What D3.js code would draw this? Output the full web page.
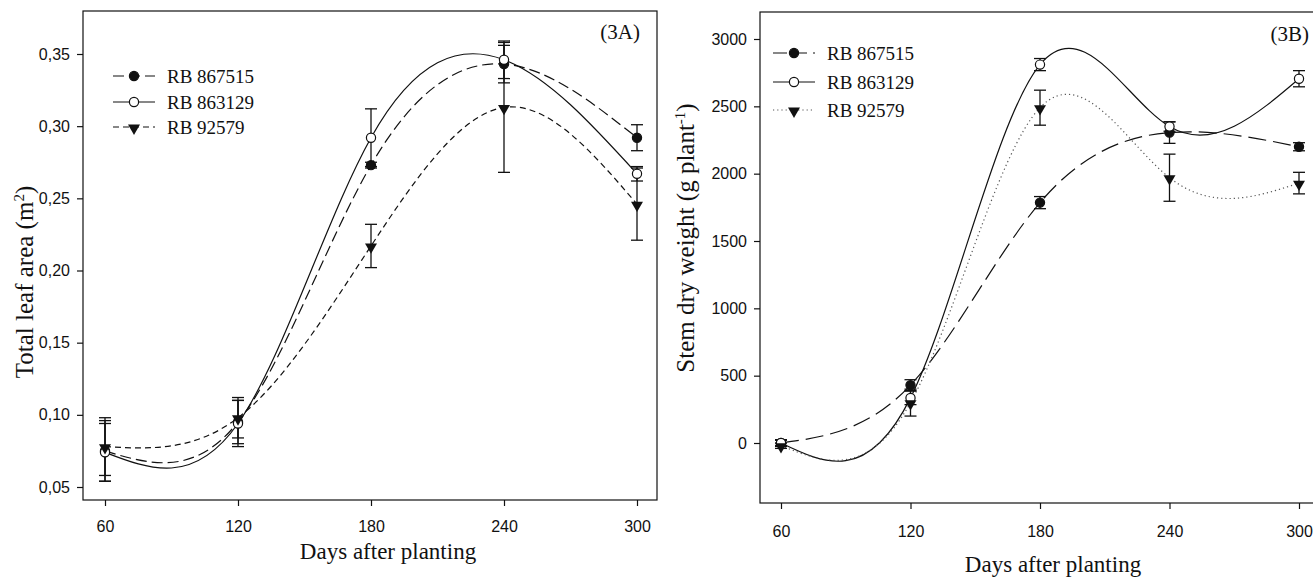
<!DOCTYPE html>
<html>
<head>
<meta charset="utf-8">
<script src="https://cdn.jsdelivr.net/npm/d3@7"></script>
<style>
  body { margin: 0; background: #fff; }
  svg { display: block; }
</style>
</head>
<body>
<svg id="chart" width="1313" height="577"></svg>
<script>
// x values and tick labels
const days = [60, 120, 180, 240, 300];
const dayTicks = [60, 120, 180, 240, 300];
const cultivars = ['RB 867515', 'RB 863129', 'RB 92579'];

// 3A - total leaf area (m2), means and error
const area867515 = [0.075, 0.095, 0.273, 0.343, 0.292];
const area867515Err = [0.021, 0.015, 0.002, 0.013, 0.009];
const area863129 = [0.074, 0.094, 0.292, 0.346, 0.267];
const area863129Err = [0.020, 0.016, 0.020, 0.013, 0.005];
const area92579 = [0.078, 0.098, 0.217, 0.313, 0.246];
const area92579Err = [0.020, 0.014, 0.015, 0.045, 0.025];
const areaTicks = [0.05, 0.10, 0.15, 0.20, 0.25, 0.30, 0.35];

// 3B - stem dry weight (g plant-1), means and error
const weight867515 = [0, 430, 1785, 2305, 2200];
const weight867515Err = [25, 40, 45, 80, 30];
const weight863129 = [0, 335, 2810, 2350, 2705];
const weight863129Err = [20, 50, 45, 35, 60];
const weight92579 = [-20, 300, 2490, 1970, 1930];
const weight92579Err = [20, 100, 130, 175, 80];
const weightTicks = [0, 500, 1000, 1500, 2000, 2500, 3000];

const svg = d3.select('#chart');
const ink = '#111';

function drawPanel(p) {
  const x = d3.scaleLinear().domain([60, 300]).range(p.xRange);
  const y = d3.scaleLinear().domain(p.yDomain).range(p.yRange);
  const g = svg.append('g');

  // frame
  g.append('rect')
    .attr('x', p.frame[0]).attr('y', p.frame[1])
    .attr('width', p.frame[2] - p.frame[0]).attr('height', p.frame[3] - p.frame[1])
    .attr('fill', 'none').attr('stroke', ink).attr('stroke-width', 1.2);

  // axes
  const xAxis = g.append('g')
    .attr('transform', 'translate(0,' + p.frame[3] + ')')
    .call(d3.axisBottom(x).tickValues(dayTicks).tickSize(6).tickPadding(p.xPad).tickSizeOuter(0));
  const yAxis = g.append('g')
    .attr('transform', 'translate(' + p.frame[0] + ',0)')
    .call(d3.axisLeft(y).tickValues(p.yTicks).tickSize(6).tickPadding(7).tickSizeOuter(0).tickFormat(p.fmt));
  [xAxis, yAxis].forEach(function (a) {
    a.select('.domain').remove();
    a.selectAll('line').attr('stroke', ink).attr('stroke-width', 1.2);
    a.selectAll('text').attr('fill', ink).style('font-family', '"Liberation Sans", Arial, sans-serif').style('font-size', '16px');
  });

  // curves
  const line = d3.line()
    .x(function (d, i) { return x(days[i]); })
    .y(function (d) { return y(d); })
    .curve(d3.curveNatural);
  p.series.forEach(function (s) {
    g.append('path')
      .attr('d', line(s.values))
      .attr('fill', 'none')
      .attr('stroke', s.color)
      .attr('stroke-width', s.width)
      .attr('stroke-dasharray', s.dash);
  });

  // error bars
  p.series.forEach(function (s) {
    s.values.forEach(function (v, i) {
      const cx = x(days[i]);
      const y1 = y(v + s.err[i]);
      const y2 = y(v - s.err[i]);
      g.append('line').attr('x1', cx).attr('x2', cx).attr('y1', y1).attr('y2', y2)
        .attr('stroke', ink).attr('stroke-width', 1.3);
      [y1, y2].forEach(function (cy) {
        g.append('line').attr('x1', cx - 6).attr('x2', cx + 6).attr('y1', cy).attr('y2', cy)
          .attr('stroke', ink).attr('stroke-width', 1.3);
      });
    });
  });

  // markers
  p.series.forEach(function (s) {
    s.values.forEach(function (v, i) {
      drawMarker(g, s.marker, x(days[i]), y(v));
    });
  });

  // legend
  p.series.forEach(function (s, i) {
    const ly = p.legend.y[i];
    g.append('line')
      .attr('x1', p.legend.x).attr('x2', p.legend.x + 42)
      .attr('y1', ly).attr('y2', ly)
      .attr('stroke', s.color).attr('stroke-width', s.width)
      .attr('stroke-dasharray', s.legendDash || s.dash);
    drawMarker(g, s.marker, p.legend.x + 21, ly);
    g.append('text')
      .attr('x', p.legend.x + 54).attr('y', ly + 6.5)
      .attr('fill', ink)
      .style('font-family', '"Liberation Serif", "Times New Roman", serif')
      .style('font-size', '19px')
      .text(cultivars[i]);
  });

  // panel tag
  g.append('text')
    .attr('x', p.tag.x).attr('y', p.tag.y)
    .attr('text-anchor', 'end')
    .attr('fill', ink)
    .style('font-family', '"Liberation Serif", "Times New Roman", serif')
    .style('font-size', '21px')
    .text(p.tag.text);

  // axis titles
  g.append('text')
    .attr('x', p.xTitle[0]).attr('y', p.xTitle[1])
    .attr('text-anchor', 'middle')
    .attr('fill', ink)
    .style('font-family', '"Liberation Serif", "Times New Roman", serif')
    .style('font-size', '23px')
    .text('Days after planting');

  const yt = g.append('text')
    .attr('transform', 'translate(' + p.yTitle[0] + ',' + p.yTitle[1] + ') rotate(-90)')
    .attr('text-anchor', 'middle')
    .attr('fill', ink)
    .style('font-family', '"Liberation Serif", "Times New Roman", serif')
    .style('font-size', '25px');
  yt.append('tspan').text(p.yLabel[0]);
  yt.append('tspan').attr('dy', -9).style('font-size', '15px').text(p.yLabel[1]);
  yt.append('tspan').attr('dy', 9).text(p.yLabel[2]);
}

function drawMarker(g, type, cx, cy) {
  if (type === 'triangle') {
    g.append('path')
      .attr('d', d3.symbol(d3.symbolTriangle, 62)())
      .attr('transform', 'translate(' + cx + ',' + (cy + 1) + ') rotate(180)')
      .attr('fill', ink);
  } else {
    g.append('circle')
      .attr('cx', cx).attr('cy', cy).attr('r', 4.6)
      .attr('fill', type === 'filled' ? ink : '#fff')
      .attr('stroke', ink).attr('stroke-width', 1.2);
  }
}

const commaFmt = function (d) { return d3.format('.2f')(d).replace('.', ','); };

drawPanel({
  xRange: [105, 637],
  yDomain: [0.05, 0.35],
  yRange: [487, 54],
  frame: [83, 11, 657, 500],
  xPad: 15,
  yTicks: areaTicks,
  fmt: commaFmt,
  series: [
    { values: area867515, err: area867515Err, marker: 'filled', dash: '11,5', color: ink, width: 1.2 },
    { values: area863129, err: area863129Err, marker: 'open', dash: null, color: ink, width: 1.2 },
    { values: area92579, err: area92579Err, marker: 'triangle', dash: '6,4', color: ink, width: 1.2 }
  ],
  legend: { x: 113, y: [76, 102, 127] },
  tag: { x: 640, y: 39, text: '(3A)' },
  xTitle: [388, 559],
  yTitle: [33, 282],
  yLabel: ['Total leaf area (m', '2', ')']
});

drawPanel({
  xRange: [781, 1299],
  yDomain: [0, 3000],
  yRange: [443, 39],
  frame: [760, 12, 1319, 503],
  xPad: 17,
  yTicks: weightTicks,
  fmt: d3.format('d'),
  series: [
    { values: weight867515, err: weight867515Err, marker: 'filled', dash: '18,7', legendDash: '14,6', color: ink, width: 1.2 },
    { values: weight863129, err: weight863129Err, marker: 'open', dash: null, color: ink, width: 1.2 },
    { values: weight92579, err: weight92579Err, marker: 'triangle', dash: '1.2,3', color: '#555', width: 1.2 }
  ],
  legend: { x: 773, y: [53, 82, 110] },
  tag: { x: 1309, y: 41, text: '(3B)' },
  xTitle: [1053, 572],
  yTitle: [694, 238],
  yLabel: ['Stem dry weight (g plant', '-1', ')']
});
</script>
</body>
</html>
